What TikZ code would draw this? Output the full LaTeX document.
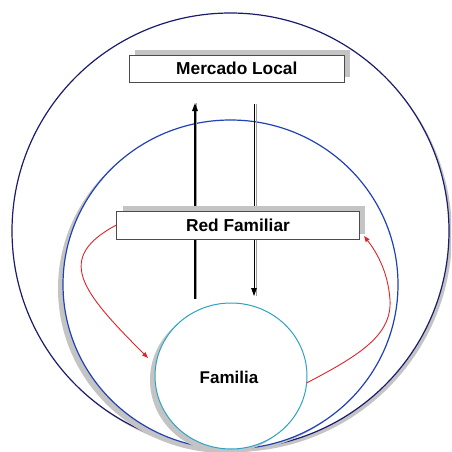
\documentclass[tikz,border=0pt]{standalone}
\usepackage{fontspec}
\setmainfont{Liberation Sans}
\usetikzlibrary{shapes.geometric,shadows,arrows.meta}
\definecolor{navy}{HTML}{1C1C6E}
\definecolor{ringblue}{HTML}{2242B4}
\definecolor{famcyan}{HTML}{2FA2C2}
\definecolor{shade}{HTML}{C4C4C4}
\definecolor{linkred}{HTML}{E0242A}
\begin{document}
\begin{tikzpicture}[x=1pt,y=-1pt,
  ring/.style={ellipse, inner sep=0pt, fill=white, line width=1.2pt},
  labelbox/.style={draw=black!70, line width=0.7pt, fill=white, inner sep=0pt,
    drop shadow={shadow xshift=6pt, shadow yshift=5pt, fill=shade, opacity=1}},
  flow/.style={black, -{Triangle[length=8pt,width=5.5pt]}},
  flowshade/.style={shade!80!black, line width=1pt},
  link/.style={linkred, line width=0.9pt, -{Triangle[length=6pt,width=4.5pt]}}
]
\useasboundingbox (0,0) rectangle (451,452);
\clip (0,0) rectangle (451,452);

% nested rings
\node[ring, draw=navy, minimum width=437pt, minimum height=436pt,
  drop shadow={shadow xshift=3pt, shadow yshift=-3pt, fill=shade, opacity=1}]
  (market) at (230.5,231) {};
\node[ring, draw=ringblue, minimum width=335pt, minimum height=329pt,
  drop shadow={shadow xshift=-5pt, shadow yshift=-4pt, fill=shade, opacity=1}]
  (network) at (230.5,284.5) {};

% vertical flows
\coordinate (upfrom) at (195,299);
\coordinate (upto) at (195,103);
\coordinate (downfrom) at (254,104);
\coordinate (downto) at (254,296);
\draw[flowshade] ([xshift=1.6pt]upfrom) -- ([xshift=1.6pt]upto);
\draw[flowshade, line width=0.8pt] ([xshift=2.6pt]downfrom) -- ([xshift=2.6pt]downto);
\draw[flow, line width=1.5pt] (upfrom) -- (upto);
\draw[flow, line width=0.9pt] (downfrom) -- (downto);

% household
\node[ring, draw=famcyan, line width=1pt, minimum width=152pt, minimum height=146pt,
  drop shadow={shadow xshift=-5pt, shadow yshift=-4pt, fill=shade, opacity=1}]
  (fam) at (231,376) {};
\node[font=\bfseries\fontsize{17}{20}\selectfont] (famtext) at (229,377) {Familia};

% labels
\node[labelbox, minimum width=215pt, minimum height=27pt,
  font=\bfseries\fontsize{17.3}{20}\selectfont] (mercado) at (236.8,68.7) {Mercado Local};
\node[labelbox, minimum width=242.6pt, minimum height=28pt,
  font=\bfseries\fontsize{17.3}{20}\selectfont] (red) at (238,225) {Red Familiar};

% exchange links
\coordinate (lefttip) at (148,358);
\coordinate (righttip) at (364,236);
\draw[link] (red.west) .. controls (55,258) and (80,290) .. (lefttip);
\draw[link] (fam.-5) .. controls (360,355) and (392,335) .. (390,300)
  .. controls (388,270) and (375,250) .. (righttip);
\end{tikzpicture}
\end{document}
